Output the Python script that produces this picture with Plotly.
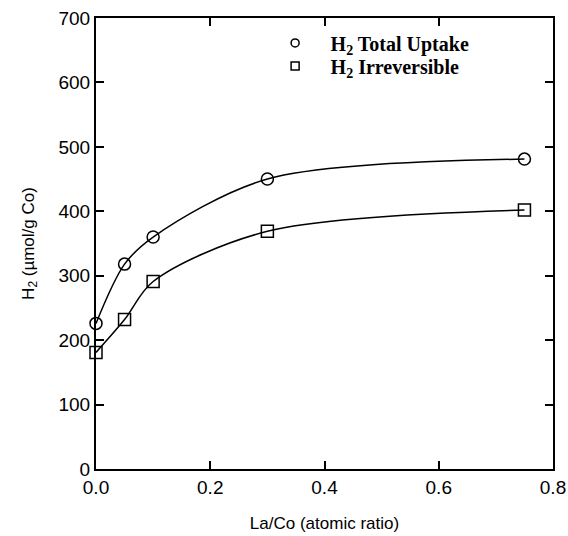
import plotly.graph_objects as go

la_co = [0.0, 0.05, 0.1, 0.3, 0.75]
h2_total = [226, 318, 360, 450, 481]
h2_irrev = [181, 232, 291, 369, 402]

x_ticks = [0.0, 0.2, 0.4, 0.6, 0.8]
y_ticks = [0, 100, 200, 300, 400, 500, 600, 700]

series = [
    ("H<sub>2</sub> Total Uptake", h2_total, "circle-open", "legend"),
    ("H<sub>2</sub> Irreversible", h2_irrev, "square-open", "legend2"),
]

fig = go.Figure()
for name, vals, sym, lg in series:
    fig.add_trace(go.Scatter(
        x=la_co, y=vals, mode="lines+markers",
        line=dict(color="black", width=1.5, shape="spline", smoothing=0.9),
        marker=dict(symbol=sym, size=12, color="black", line=dict(width=1.5, color="black")),
        showlegend=False, cliponaxis=False,
    ))
for name, vals, sym, lg in series:
    fig.add_trace(go.Scatter(
        x=[None], y=[None], mode="markers", name=name, legend=lg,
        marker=dict(symbol=sym, size=8, color="black", line=dict(width=1.5, color="black")),
        showlegend=True,
    ))

axis_common = dict(
    showline=True, linecolor="black", linewidth=2, mirror="ticks",
    ticks="inside", ticklen=8, tickwidth=1.5, tickcolor="black",
    showgrid=False, zeroline=False, automargin=False,
    tickfont=dict(family="Liberation Sans, Arial", size=19, color="black"),
)

legend_common = dict(
    xanchor="left", yanchor="top",
    bgcolor="rgba(0,0,0,0)", borderwidth=0,
    font=dict(family="Liberation Serif, Times New Roman", size=20,
              color="black", weight="bold"),
    itemwidth=61, tracegroupgap=0,
)

fig.update_layout(
    width=568, height=536,
    margin=dict(l=96, r=15, t=18, b=67),
    plot_bgcolor="white", paper_bgcolor="white",
    xaxis=dict(range=[0, 0.8], tickvals=x_ticks, tickformat=".1f",
               title=dict(text="La/Co (atomic ratio)", standoff=20,
                          font=dict(family="Liberation Sans, Arial", size=17, color="black")),
               **axis_common),
    yaxis=dict(range=[0, 700], tickvals=y_ticks,
               title=dict(text="H<sub>2</sub> (µmol/g Co)", standoff=20,
                          font=dict(family="Liberation Sans, Arial", size=17, color="black")),
               **axis_common),
    legend=dict(x=0.358, y=0.988, **legend_common),
    legend2=dict(x=0.358, y=0.937, **legend_common),
)

fig.write_html("out.html", config={"displayModeBar": False},
               post_script="document.body.style.margin='0';")
